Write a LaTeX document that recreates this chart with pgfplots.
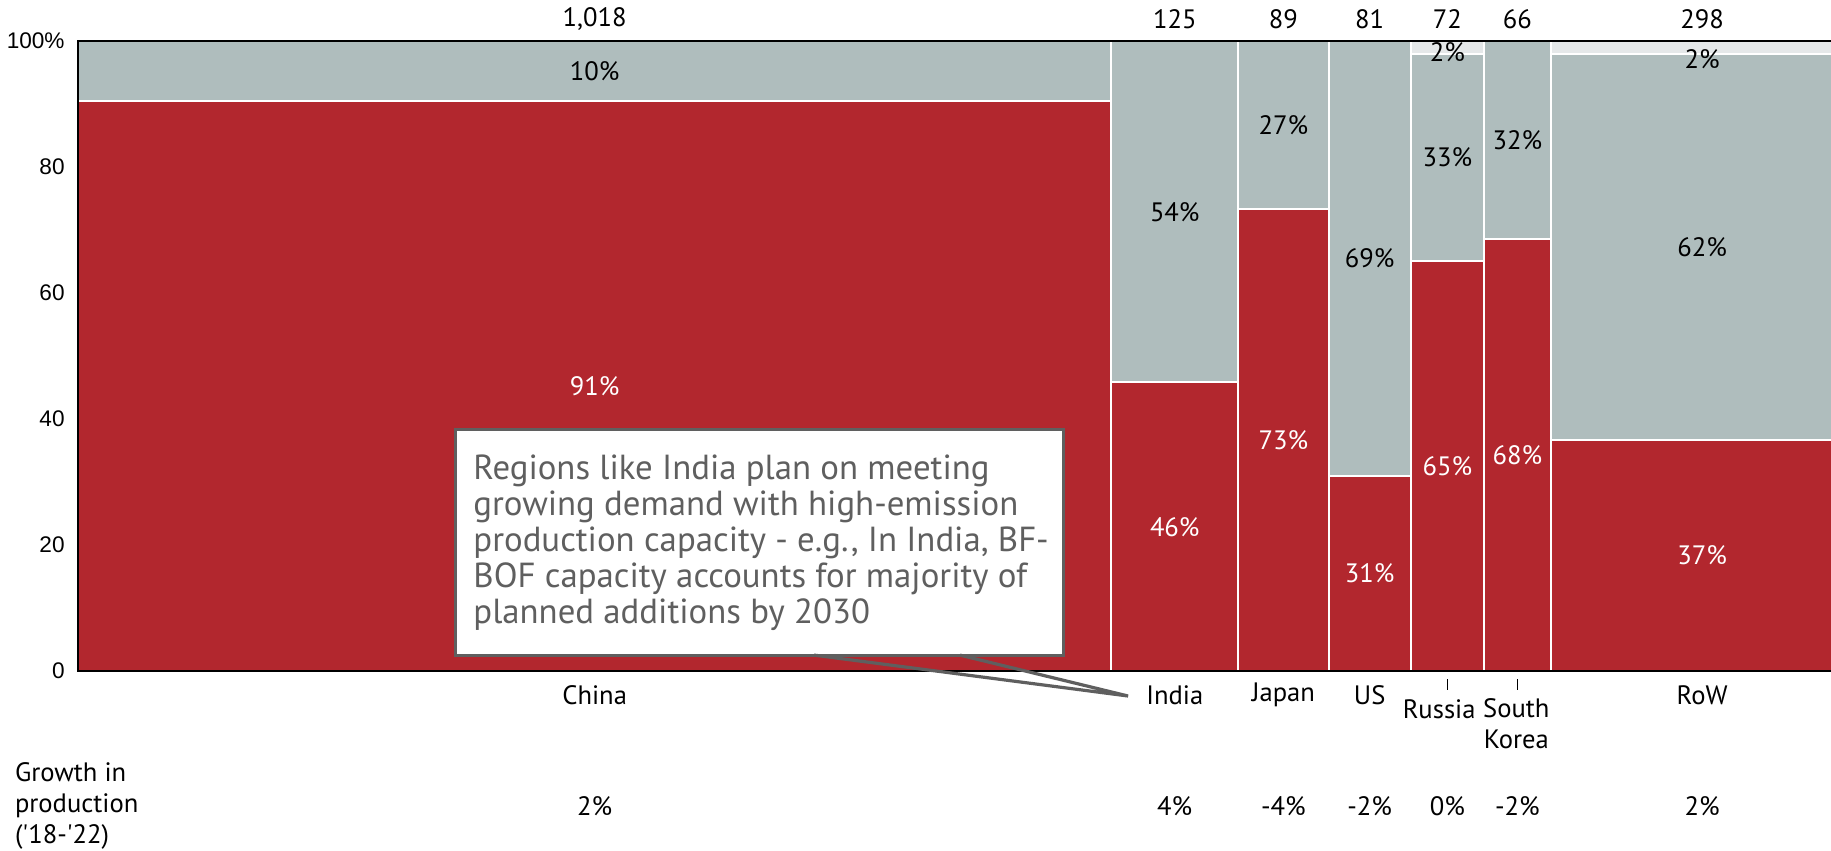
\documentclass[border=0pt]{standalone}
\usepackage{pgfplots}
\pgfplotsset{compat=1.18}
\usepackage{fontspec}
\setmainfont{PT Sans}
\newfontfamily\arialf{Liberation Sans}
\definecolor{cred}{HTML}{B2272E}
\definecolor{cgray}{HTML}{AFBDBD}
\definecolor{clight}{HTML}{E5E8E9}
\definecolor{ctext}{HTML}{5F5F5F}
\newcommand\lf{\fontsize{13.3}{15.6}\selectfont}
\begin{document}
\begin{tikzpicture}
\path[use as bounding box] (-39pt,-90pt) rectangle (876.5pt,335.5pt);
\begin{axis}[
  at={(0,0)}, anchor=south west,
  scale only axis, width=876.5pt, height=315pt,
  xmin=0, xmax=1727, ymin=0, ymax=100,
  axis line style={draw=none},
  xtick=\empty,
  ytick={0,20,40,60,80,100},
  yticklabels={0,20,40,60,80,100\%},
  major tick length=0pt,
  yticklabel style={font=\arialf\fontsize{11.3}{13}\selectfont, inner sep=0pt, xshift=-6.5pt},
  clip mode=individual,
]
% China 0-1018
\addplot[fill=cred, draw=white, line width=1pt] coordinates {(0,0) (1018,0) (1018,90.5) (0,90.5)} --cycle;
\addplot[fill=cgray, draw=white, line width=1pt] coordinates {(0,90.5) (1018,90.5) (1018,100) (0,100)} --cycle;
% India 1018-1143
\addplot[fill=cred, draw=white, line width=1pt] coordinates {(1018,0) (1143,0) (1143,45.8) (1018,45.8)} --cycle;
\addplot[fill=cgray, draw=white, line width=1pt] coordinates {(1018,45.8) (1143,45.8) (1143,100) (1018,100)} --cycle;
% Japan 1143-1232
\addplot[fill=cred, draw=white, line width=1pt] coordinates {(1143,0) (1232,0) (1232,73.3) (1143,73.3)} --cycle;
\addplot[fill=cgray, draw=white, line width=1pt] coordinates {(1143,73.3) (1232,73.3) (1232,100) (1143,100)} --cycle;
% US 1232-1313
\addplot[fill=cred, draw=white, line width=1pt] coordinates {(1232,0) (1313,0) (1313,31) (1232,31)} --cycle;
\addplot[fill=cgray, draw=white, line width=1pt] coordinates {(1232,31) (1313,31) (1313,100) (1232,100)} --cycle;
% Russia 1313-1385
\addplot[fill=cred, draw=white, line width=1pt] coordinates {(1313,0) (1385,0) (1385,65) (1313,65)} --cycle;
\addplot[fill=cgray, draw=white, line width=1pt] coordinates {(1313,65) (1385,65) (1385,98) (1313,98)} --cycle;
\addplot[fill=clight, draw=white, line width=1pt] coordinates {(1313,98) (1385,98) (1385,100) (1313,100)} --cycle;
% South Korea 1385-1451
\addplot[fill=cred, draw=white, line width=1pt] coordinates {(1385,0) (1451,0) (1451,68.5) (1385,68.5)} --cycle;
\addplot[fill=cgray, draw=white, line width=1pt] coordinates {(1385,68.5) (1451,68.5) (1451,100) (1385,100)} --cycle;
% RoW 1451-1749
\addplot[fill=cred, draw=white, line width=1pt] coordinates {(1451,0) (1749,0) (1749,36.7) (1451,36.7)} --cycle;
\addplot[fill=cgray, draw=white, line width=1pt] coordinates {(1451,36.7) (1749,36.7) (1749,98) (1451,98)} --cycle;
\addplot[fill=clight, draw=white, line width=1pt] coordinates {(1451,98) (1749,98) (1749,100) (1451,100)} --cycle;

\draw[black, line width=1pt] (rel axis cs:1,1) -- (rel axis cs:0,1) -- (rel axis cs:0,0) -- (rel axis cs:1,0);

% top totals
\node[font=\lf] at (axis cs:509,103.5) {1,018};
\node[font=\lf] at (axis cs:1080.5,103.5) {125};
\node[font=\lf] at (axis cs:1187.5,103.5) {89};
\node[font=\lf] at (axis cs:1272.5,103.5) {81};
\node[font=\lf] at (axis cs:1349,103.5) {72};
\node[font=\lf] at (axis cs:1418,103.5) {66};
\node[font=\lf] at (axis cs:1600,103.5) {298};

% segment labels
\node[font=\lf, text=white] at (axis cs:509,45.25) {91\%};
\node[font=\lf] at (axis cs:509,95.2) {10\%};
\node[font=\lf, text=white] at (axis cs:1080.5,22.9) {46\%};
\node[font=\lf] at (axis cs:1080.5,72.9) {54\%};
\node[font=\lf, text=white] at (axis cs:1187.5,36.65) {73\%};
\node[font=\lf] at (axis cs:1187.5,86.65) {27\%};
\node[font=\lf, text=white] at (axis cs:1272.5,15.5) {31\%};
\node[font=\lf] at (axis cs:1272.5,65.5) {69\%};
\node[font=\lf, text=white] at (axis cs:1349,32.5) {65\%};
\node[font=\lf] at (axis cs:1349,81.5) {33\%};
\node[font=\lf] at (axis cs:1349,98.2) {2\%};
\node[font=\lf, text=white] at (axis cs:1418,34.25) {68\%};
\node[font=\lf] at (axis cs:1418,84.25) {32\%};
\node[font=\lf, text=white] at (axis cs:1600,18.35) {37\%};
\node[font=\lf] at (axis cs:1600,67.35) {62\%};
\node[font=\lf] at (axis cs:1600,97.1) {2\%};

% category labels
\node[font=\lf] at (axis cs:509,-3.8) {China};
\node[font=\lf] at (axis cs:1080.5,-3.8) {India};
\node[font=\lf] at (axis cs:1187.5,-3.8) {Japan};
\node[font=\lf] at (axis cs:1272.5,-3.8) {US};
\node[font=\lf] at (axis cs:1341,-6.03) {Russia};
\node[font=\lf, align=center] at (axis cs:1417,-8.3) {South\\Korea};
\node[font=\lf] at (axis cs:1600,-3.8) {RoW};
\draw[black, line width=0.6pt] (axis cs:1349,-1.3) -- (axis cs:1349,-3.0);
\draw[black, line width=0.6pt] (axis cs:1418,-1.3) -- (axis cs:1418,-3.0);

% growth row
\node[font=\lf, anchor=west, align=left] at (axis cs:-69,-21.4) {Growth in\\production\\(\textquotesingle18-\textquotesingle22)};
\node[font=\lf] at (axis cs:509,-21.4) {2\%};
\node[font=\lf] at (axis cs:1080.5,-21.4) {4\%};
\node[font=\lf] at (axis cs:1187.5,-21.4) {-4\%};
\node[font=\lf] at (axis cs:1272.5,-21.4) {-2\%};
\node[font=\lf] at (axis cs:1349,-21.4) {0\%};
\node[font=\lf] at (axis cs:1418,-21.4) {-2\%};
\node[font=\lf] at (axis cs:1600,-21.4) {2\%};

% callout
\draw[draw=ctext, line width=1.6pt, fill=white] (axis cs:371.8,38.3) rectangle (axis cs:971.2,2.52);
\draw[ctext, line width=1.6pt, line join=miter] (axis cs:725.1,2.52) -- (axis cs:1034.5,-3.97) -- (axis cs:868.9,2.52);
\node[anchor=north west, align=left, inner sep=0pt, text=ctext, font=\fontsize{17.4}{18}\selectfont] at (axis cs:389.2,34.3)
  {Regions like India plan on meeting\\growing demand with high-emission\\production capacity - e.g., In India, BF-\\BOF capacity accounts for majority of\\planned additions by 2030};
\end{axis}
\end{tikzpicture}
\end{document}
